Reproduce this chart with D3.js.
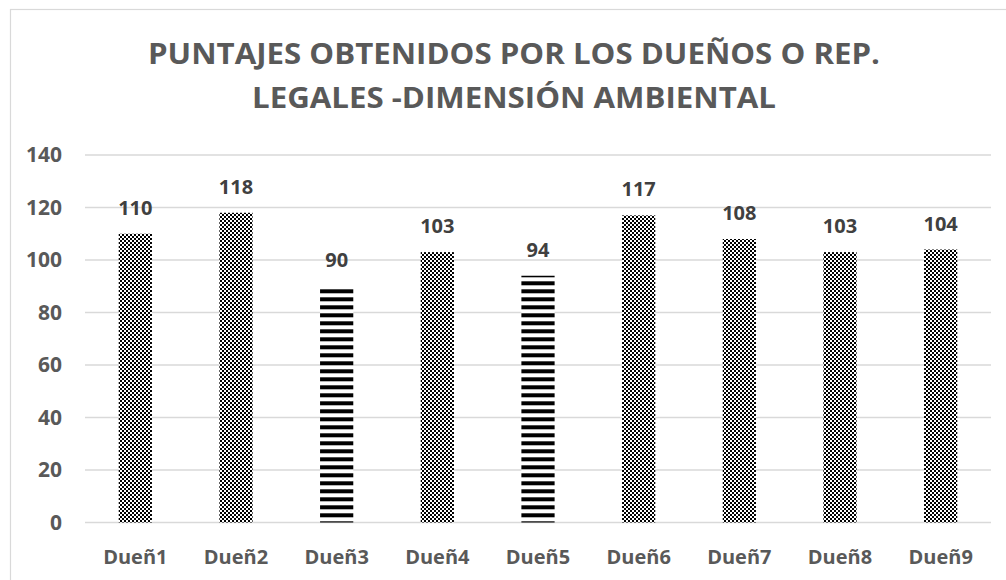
<!DOCTYPE html>
<html>
<head>
<meta charset="utf-8">
<script src="https://cdn.jsdelivr.net/npm/d3@7"></script>
<style>
  body { margin: 0; background: #fff; }
  svg { display: block; }
  text { font-family: "Open Sans", "Liberation Sans", sans-serif; font-weight: bold; }
</style>
</head>
<body>
<svg id="chart" width="1006" height="580"></svg>
<script>
// datos
var duenos = ["Dueñ1", "Dueñ2", "Dueñ3", "Dueñ4", "Dueñ5", "Dueñ6", "Dueñ7", "Dueñ8", "Dueñ9"];
var puntajes = [110, 118, 90, 103, 94, 117, 108, 103, 104];
var yTicks = [0, 20, 40, 60, 80, 100, 120, 140];
var titulo = ["PUNTAJES OBTENIDOS POR LOS DUEÑOS O REP.", "LEGALES -DIMENSIÓN AMBIENTAL"];

var svg = d3.select("#chart");

var plotLeft = 85, plotRight = 991, plotTop = 155, plotBottom = 522.5;

var x = d3.scaleBand()
	.domain(duenos)
	.range([plotLeft, plotRight])
	.paddingInner(0.67)
	.paddingOuter(0.335);

var y = d3.scaleLinear()
	.domain([0, 140])
	.range([plotBottom, plotTop]);

// patterns
var defs = svg.append("defs");
var checker = defs.append("pattern")
	.attr("id", "checker")
	.attr("patternUnits", "userSpaceOnUse")
	.attr("width", 4).attr("height", 4);
checker.append("rect").attr("width", 4).attr("height", 4).attr("fill", "#fff");
checker.append("rect").attr("x", 0).attr("y", 0).attr("width", 2).attr("height", 2).attr("fill", "#000");
checker.append("rect").attr("x", 2).attr("y", 2).attr("width", 2).attr("height", 2).attr("fill", "#000");

var stripes = defs.append("pattern")
	.attr("id", "stripes")
	.attr("patternUnits", "userSpaceOnUse")
	.attr("y", 1.3)
	.attr("width", 8).attr("height", 8);
stripes.append("rect").attr("width", 8).attr("height", 8).attr("fill", "#fff");
stripes.append("rect").attr("width", 8).attr("height", 4).attr("fill", "#000");

// chart border
svg.append("rect")
	.attr("x", 10.5).attr("y", 9.5)
	.attr("width", 1020).attr("height", 600)
	.attr("fill", "none")
	.attr("stroke", "#d9d9d9")
	.attr("stroke-width", 1.2);

// title
svg.selectAll(".title")
	.data(titulo)
	.enter().append("text")
	.attr("class", "title")
	.attr("x", 514)
	.attr("y", function(d, i) { return 64 + i * 44; })
	.attr("text-anchor", "middle")
	.attr("fill", "#595959")
	.style("font-size", "29px")
	.attr("textLength", function(d, i) { return i === 0 ? 732 : 524; })
	.attr("lengthAdjust", "spacingAndGlyphs")
	.text(function(d) { return d; });

// gridlines
svg.append("g")
	.selectAll("line")
	.data(yTicks)
	.enter().append("line")
	.attr("x1", plotLeft).attr("x2", plotRight)
	.attr("y1", function(d) { return y(d); })
	.attr("y2", function(d) { return y(d); })
	.attr("stroke", "#d9d9d9")
	.attr("stroke-width", 1.3);

// y axis labels
svg.append("g")
	.selectAll("text")
	.data(yTicks)
	.enter().append("text")
	.attr("x", 62)
	.attr("y", function(d) { return y(d) + 7; })
	.attr("text-anchor", "end")
	.attr("fill", "#595959")
	.style("font-size", "21px")
	.text(function(d) { return d; });

// bars
svg.append("g")
	.selectAll("rect")
	.data(puntajes)
	.enter().append("rect")
	.attr("x", function(d, i) { return x(duenos[i]); })
	.attr("width", x.bandwidth())
	.attr("y", function(d) { return y(d); })
	.attr("height", function(d) { return y(0) - y(d); })
	.attr("fill", function(d) { return d < 100 ? "url(#stripes)" : "url(#checker)"; });

// data labels
svg.append("g")
	.selectAll("text")
	.data(puntajes)
	.enter().append("text")
	.attr("x", function(d, i) { return x(duenos[i]) + x.bandwidth() / 2; })
	.attr("y", function(d) { return y(d) - 19; })
	.attr("text-anchor", "middle")
	.attr("fill", "#404040")
	.style("font-size", "20px")
	.text(function(d) { return d; });

// x axis labels
svg.append("g")
	.selectAll("text")
	.data(duenos)
	.enter().append("text")
	.attr("x", function(d) { return x(d) + x.bandwidth() / 2; })
	.attr("y", 564)
	.attr("text-anchor", "middle")
	.attr("fill", "#595959")
	.style("font-size", "20px")
	.text(function(d) { return d; });
</script>
</body>
</html>
